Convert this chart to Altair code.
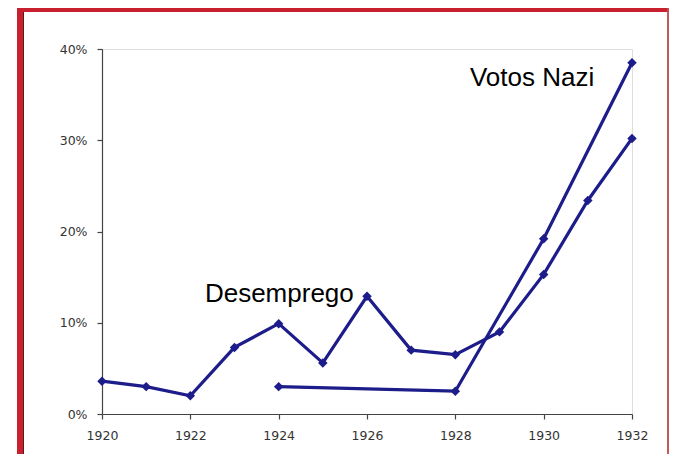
import altair as alt
import pandas as pd

# Data
desemp_years = [1920, 1921, 1922, 1923, 1924, 1925, 1926, 1927, 1928, 1929, 1930, 1931, 1932]
desemp_vals = [3.6, 3.0, 2.0, 7.3, 9.9, 5.6, 12.9, 7.0, 6.5, 9.0, 15.3, 23.4, 30.2]
nazi_years = [1924, 1928, 1930, 1932]
nazi_vals = [3.0, 2.5, 19.2, 38.5]
labels = ["Desemprego", "Votos Nazi"]
label_x = [1922.33, 1928.33]
label_y = [13.2, 36.8]

rows = [{"ano": y, "v": v / 100, "serie": "Desemprego"} for y, v in zip(desemp_years, desemp_vals)]
rows += [{"ano": y, "v": v / 100, "serie": "Votos Nazi"} for y, v in zip(nazi_years, nazi_vals)]
df = pd.DataFrame(rows)
lab = pd.DataFrame({"t": labels, "ano": label_x, "v": [v / 100 for v in label_y]})

NAVY = "#1c1c8a"
RED = "#c8202e"
W, H = 530, 365

axis_style = dict(grid=False, tickSize=5, labelPadding=10, labelFlush=False,
                  labelFont="DejaVu Sans", labelFontSize=12.5, labelColor="#333333",
                  domainColor="#444444", tickColor="#444444", domainWidth=1.2, tickWidth=1.2,
                  title=None)

xs = alt.X("ano:Q", scale=alt.Scale(domain=[1920, 1932], nice=False, zero=False),
           axis=alt.Axis(values=[1920, 1922, 1924, 1926, 1928, 1930, 1932], format="d",
                         **axis_style))
ys = alt.Y("v:Q", scale=alt.Scale(domain=[0, 0.4], nice=False),
           axis=alt.Axis(values=[0, 0.1, 0.2, 0.3, 0.4], format=".0%", **axis_style))

base = alt.Chart(df)
lines = base.mark_line(color=NAVY, strokeWidth=3.2).encode(x=xs, y=ys, detail="serie:N")
pts = base.mark_point(shape="diamond", filled=True, color=NAVY, size=90, opacity=1).encode(
    x="ano:Q", y="v:Q")
txt = alt.Chart(lab).mark_text(align="left", baseline="middle", font="Liberation Sans",
                               fontSize=26, color="#000000").encode(
    x="ano:Q", y="v:Q", text="t:N")

frame_left = alt.Chart(lab).mark_rule(color=RED, strokeWidth=6).encode(
    x=alt.value(-82), y=alt.value(-41), y2=alt.value(H + 60))
frame_left_in = alt.Chart(lab).mark_rule(color="#5a1a1a", strokeWidth=1).encode(
    x=alt.value(-78.5), y=alt.value(-37), y2=alt.value(H + 60))
frame_top = alt.Chart(lab).mark_rule(color=RED, strokeWidth=4).encode(
    x=alt.value(-85), x2=alt.value(W + 40), y=alt.value(-39))
frame_right = alt.Chart(lab).mark_rule(color="#c05050", strokeWidth=1.5).encode(
    x=alt.value(566), y=alt.value(-41), y2=alt.value(H + 60))

chart = alt.layer(frame_left, frame_left_in, frame_top, frame_right, lines, pts, txt).properties(
    width=W, height=H,
    autosize=alt.AutoSizeParams(type="none"),
    padding={"left": 94, "top": 41, "right": 37, "bottom": 40},
).configure_view(stroke="#555555", strokeWidth=1.2).configure(background="white")

chart.save("out.html", embed_options={"renderer": "svg", "actions": False})
